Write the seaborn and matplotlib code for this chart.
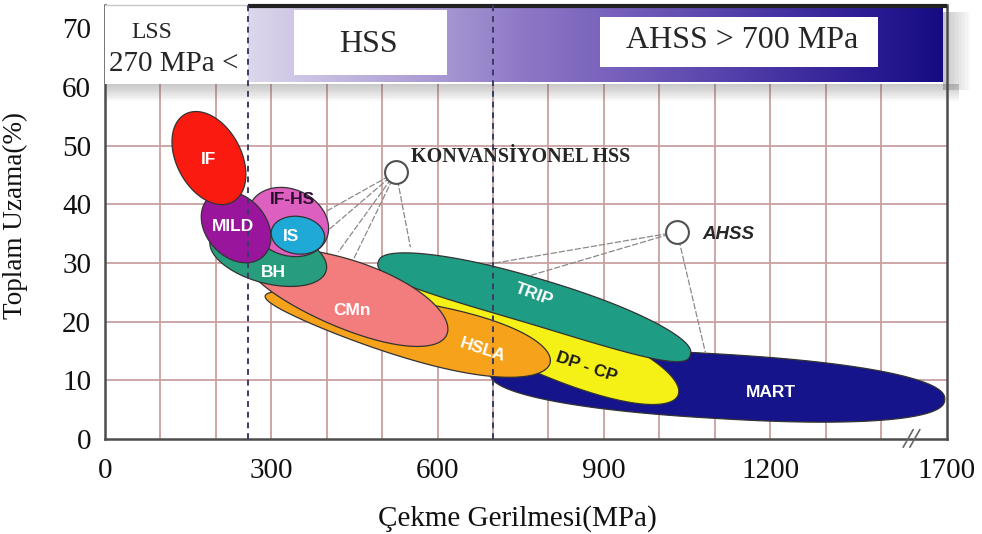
import numpy as np
import pandas as pd
import matplotlib
matplotlib.use("Agg")
import matplotlib.pyplot as plt
import seaborn as sns
from matplotlib.colors import LinearSegmentedColormap
from matplotlib.patches import Rectangle

# steel grade windows: strength / elongation range of each "banana"
grades = ["MART", "DP - CP", "TRIP", "HSLA", "CMn", "BH", "IF-HS", "IS", "MILD", "IF"]
ts_lo = [695, 482, 493, 289, 258, 190, 262, 300, 188, 145]
el_hi = [11.3, 28.0, 30.2, 24.4, 30.6, 34.0, 40.0, 35.4, 41.2, 55.4]
ts_hi = [1515, 1034, 1056, 803, 617, 399, 399, 396, 285, 230]
el_lo = [6.7, 7.5, 14.3, 13.0, 17.9, 28.7, 34.0, 34.1, 31.1, 40.4]
el_spread = [5.5, 5.1, 3.9, 4.8, 5.8, 4.8, 5.6, 3.2, 5.1, 5.5]

# shape tweaks (skew toward high strength end, bend, squareness)
skew = [0, 0.3, 0, 0.35, 0.1, 0, 0, 0, 0, 0]
bend = [0, 0, 1.2, 0, 0.4, 0, 0, 0, 0, 0]
square = [2.3, 2, 2.5, 2, 2, 2, 2, 2, 2, 2]

colors = ["#16148a", "#f5f016", "#1e9c84", "#f6a21a", "#f37d7c",
          "#289d7e", "#dd5fbf", "#1ea9d6", "#99169c", "#fa1a10"]
label_colors = ["white", "#1a1a1a", "white", "white", "white",
                "white", "#2a1030", "white", "white", "white"]
label_dx = [97, 110, 0, 136, 8, 9, 8, -12, -5, 0]
label_dy = [-1.0, -5.5, 2.4, -3.5, -2.3, -2.9, 3.9, -0.3, 0.1, -0.3]
label_rot = [0, -19, -20, -18, 0, 0, 0, 0, 0, 0]

# strength class limits (MPa)
limits = [258, 700]

# callout circles and where their leader lines end
konv_xy = (525, 45.5)
konv_x = [393, 399, 421, 446, 551]
konv_y = [38.5, 35.3, 31.9, 30.2, 32.7]
ahss_xy = (1032, 35.3)
ahss_x = [598, 679, 1083]
ahss_y = [28.3, 25.4, 14.8]

xticks = [0, 300, 600, 900, 1200, 1519]
xticklabels = ["0", "300", "600", "900", "1200", "1700"]
yticks = [0, 10, 20, 30, 40, 50, 60, 70]
grid_x = list(range(100, 1500, 100))
grid_y = [10, 20, 30, 40, 50]

GRID = "#c9a0a0"
SPINE = "#4d4d4d"

sns.set_theme(style="white")
plt.rcParams['font.family'] = ['Liberation Serif', 'DejaVu Serif']

fig = plt.figure(figsize=(9.82, 5.34), dpi=100)
ax = fig.add_axes([105 / 982, 1 - 439 / 534, 842 / 982, 434 / 534])

# header gradient band
band_cmap = LinearSegmentedColormap.from_list("band", [
    (0, "#dcd7ec"), (0.06, "#d0c8e6"), (0.28, "#a797d3"), (0.4, "#8c77c6"),
    (0.55, "#735dba"), (0.75, "#4936a4"), (0.9, "#2a1b93"), (1, "#150c82")])
ax.imshow(np.linspace(0, 1, 256)[None, :], extent=[258, 1511, 60.8, 73.3],
          aspect="auto", cmap=band_cmap, zorder=3, interpolation="bicubic")

ax.set_xlim(0, 1519)
ax.set_ylim(0, 74)

# grid
ax.vlines(grid_x, 0, 60.5, color=GRID, lw=1.3, zorder=1)
ax.hlines(grid_y, 0, 1519, color=GRID, lw=1.3, zorder=1)

# soft shadow under / right of header
for i in range(10):
    h = 0.3 * (i + 1)
    ax.add_patch(Rectangle((0, 60.6 - h), 1540, h, fc="#555555", alpha=0.035,
                           lw=0, zorder=2.5, clip_on=False))
    w = 5 * (i + 1)
    ax.add_patch(Rectangle((1511, 59.5), w, 13.3, fc="#555555", alpha=0.035,
                           lw=0, zorder=2.5, clip_on=False))

ax.add_patch(Rectangle((0, 60.5), 258, 13.5, fc="white", lw=0, zorder=3))
ax.plot([0, 258], [74, 74], color="#c8c8c8", lw=1, zorder=3, clip_on=False)
ax.plot([258, 1519], [73.8, 73.8], color="#222222", lw=3, zorder=3.5,
        clip_on=False, solid_capstyle="butt")
ax.add_patch(Rectangle((341, 62.1), 276, 11.1, fc="white", lw=0, zorder=4))
ax.add_patch(Rectangle((893, 63.4), 502, 8.6, fc="white", lw=0, zorder=4))
ax.text(84, 69.3, "LSS", fontsize=17, ha="center", va="center", zorder=5)
ax.text(124, 63.9, "270 MPa <", fontsize=21, ha="center", va="center", zorder=5)
ax.text(475, 67.2, "HSS", fontsize=23, ha="center", va="center", zorder=5)
ax.text(1150, 68.0, "AHSS > 700 MPa", fontsize=23, ha="center", va="center", zorder=5)

ax.set_xticks(xticks)
ax.set_xticklabels(xticklabels)
ax.set_yticks(yticks)
ax.grid(False)
ax.tick_params(which="both", length=0)
ax.tick_params(axis="x", labelsize=21, pad=14)
ax.tick_params(axis="y", labelsize=21, pad=10)
for t in ax.get_xticklabels() + ax.get_yticklabels():
    t.set_color("#111111")

for side in ["left", "bottom", "right"]:
    ax.spines[side].set_color(SPINE)
    ax.spines[side].set_linewidth(1.8)
ax.spines["top"].set_visible(False)


def banana(x1, y1, x2, y2, spread, k, bnd, sq, color):
    T = ax.transData
    p1 = T.transform((x1, y1))
    p2 = T.transform((x2, y2))
    unit_y = T.transform((0, 1))[1] - T.transform((0, 0))[1]
    c = (p1 + p2) / 2
    d = p2 - p1
    a = np.hypot(*d) / 2
    u = d / (2 * a)
    n = np.array([-u[1], u[0]])
    t = np.linspace(0, 2 * np.pi, 300)
    s = -np.sign(np.cos(t)) * np.abs(np.cos(t)) ** (2 / sq)
    w = np.sign(np.sin(t)) * np.abs(np.sin(t)) ** (2 / sq)
    across = spread * unit_y * w * (1 + k * s) + bnd * unit_y * (1 - s ** 2)
    pts = c + (s * a)[:, None] * u + across[:, None] * n
    xy = T.inverted().transform(pts)
    ax.fill(xy[:, 0], xy[:, 1], fc=color, ec="#333333", lw=0.9, zorder=3)
    return (x1 + x2) / 2, (y1 + y2) / 2


for i, g in enumerate(grades):
    cx, cy = banana(ts_lo[i], el_hi[i], ts_hi[i], el_lo[i], el_spread[i],
                    skew[i], bend[i], square[i], colors[i])
    ax.text(cx + label_dx[i], cy + label_dy[i], g, family="Liberation Sans",
            weight="bold", fontsize=12.5, color=label_colors[i],
            rotation=label_rot[i], rotation_mode="anchor",
            ha="center", va="center", zorder=7)

# class limit lines
for lim in limits:
    ax.plot([lim, lim], [0, 74], color="#3b3b66", lw=1.4, ls=(0, (3, 2.5)),
            zorder=4.5)

# leader lines and callout circles
for tx, ty in zip(konv_x, konv_y):
    ax.plot([konv_xy[0], tx], [konv_xy[1], ty], color="#8a8a8a", lw=0.9,
            ls=(0, (5, 1.5)), zorder=2.8)
for tx, ty in zip(ahss_x, ahss_y):
    ax.plot([ahss_xy[0], tx], [ahss_xy[1], ty], color="#8a8a8a", lw=0.9,
            ls=(0, (5, 1.5)), zorder=2.8)

circ = pd.DataFrame({"x": [konv_xy[0], ahss_xy[0]], "y": [konv_xy[1], ahss_xy[1]]})
sns.scatterplot(data=circ, x="x", y="y", s=270, color="white",
                edgecolor="#505050", linewidth=1.5, zorder=6, ax=ax, legend=False)

ax.text(552, 48.1, "KONVANSİYONEL HSS", fontsize=14.5, weight="bold",
        ha="left", va="center", zorder=7)
ax.text(1078, 34.8, "AHSS", family="Liberation Sans", fontsize=13.5,
        weight="bold", style="italic", ha="left", va="center", zorder=7)

# axis break mark
for off in [0, 12]:
    ax.plot([1440 + off, 1458 + off], [-1.4, 1.6], color="#666666", lw=1.2,
            zorder=6, clip_on=False)

ax.set_xlim(0, 1519)
ax.set_ylim(0, 74)
ax.set_xlabel("Çekme Gerilmesi(MPa)", fontsize=21, color="#111111")
ax.set_ylabel("Toplam Uzama(%)", fontsize=19.5, color="#111111")
ax.xaxis.set_label_coords(0.49, -0.152)
ax.yaxis.set_label_coords(-0.092, 0.516)

fig.savefig("out.png", dpi=100, facecolor="white")
